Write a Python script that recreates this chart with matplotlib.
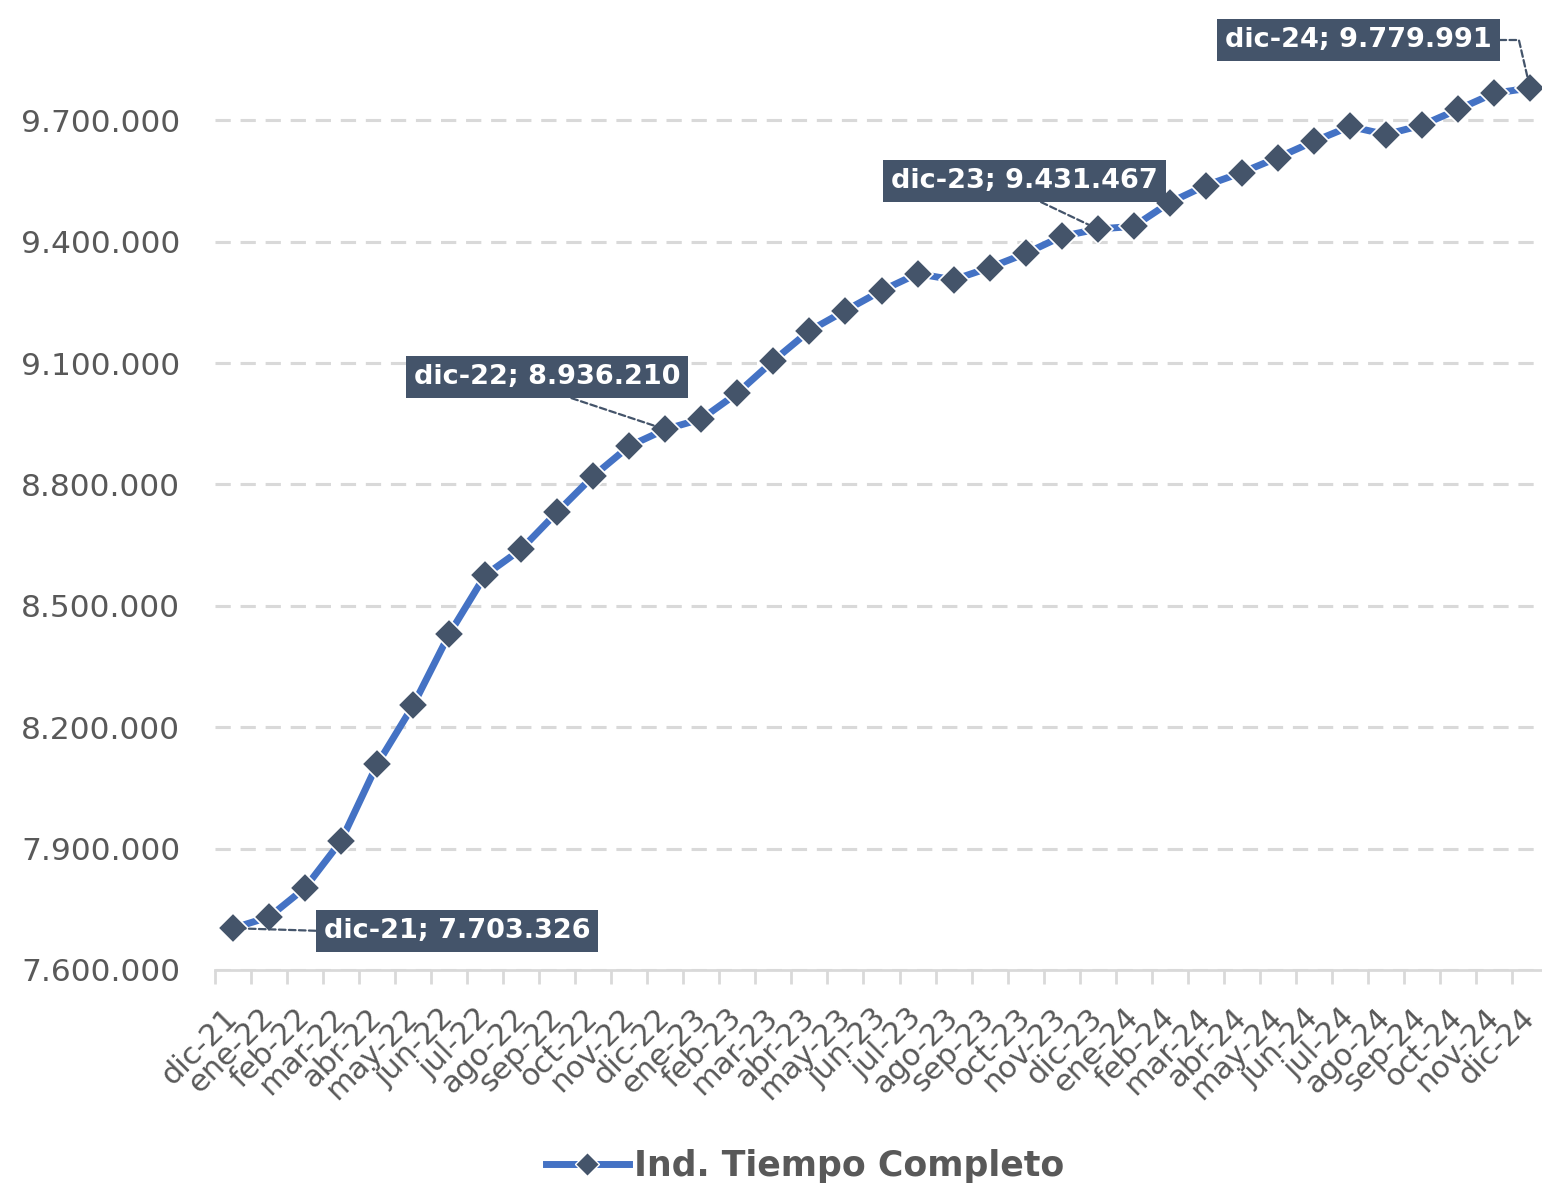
import matplotlib
matplotlib.use("Agg")
import matplotlib.pyplot as plt
from matplotlib.lines import Line2D
from matplotlib.ticker import FuncFormatter, FixedLocator

months = ["dic-21", "ene-22", "feb-22", "mar-22", "abr-22", "may-22", "jun-22", "jul-22",
          "ago-22", "sep-22", "oct-22", "nov-22", "dic-22", "ene-23", "feb-23", "mar-23",
          "abr-23", "may-23", "jun-23", "jul-23", "ago-23", "sep-23", "oct-23", "nov-23",
          "dic-23", "ene-24", "feb-24", "mar-24", "abr-24", "may-24", "jun-24", "jul-24",
          "ago-24", "sep-24", "oct-24", "nov-24", "dic-24"]
values = [7703326, 7731000, 7803000, 7919000, 8108000, 8254000, 8430000, 8576000,
          8640000, 8732000, 8821000, 8895000, 8936210, 8962000, 9026000, 9106000,
          9180000, 9230000, 9279000, 9321000, 9306000, 9336000, 9371000, 9413000,
          9431467, 9438000, 9497000, 9539000, 9571000, 9608000, 9648000, 9685000,
          9665000, 9688000, 9727000, 9767000, 9779991]
yticks = [7600000, 7900000, 8200000, 8500000, 8800000, 9100000, 9400000, 9700000]
series_name = "Ind. Tiempo Completo"
labelled = ["dic-21", "dic-22", "dic-23", "dic-24"]

FONT = ["DejaVu Sans"]
plt.rcParams["font.family"] = FONT

W, H = 1542, 1188
fig = plt.figure(figsize=(W / 100, H / 100), dpi=100)
ax = fig.add_axes([215 / W, 1 - 970 / H, 1333 / W, 971 / H])

x = list(range(len(months)))
LINE = "#4472C4"
MARK = "#44546A"
GRAY = "#595959"

ax.plot(x, values, color=LINE, lw=5, marker="D", ms=15, mfc=MARK, mec="white",
        mew=1.2, zorder=3, solid_joinstyle="round")

ax.set_xlim(-0.5, len(months) - 0.5)
ax.set_ylim(7600000, 10000000)
ax.yaxis.set_major_locator(FixedLocator(yticks))
ax.yaxis.set_major_formatter(FuncFormatter(lambda v, p: f"{int(round(v)):,}".replace(",", ".")))
ax.grid(axis="y", color="#D9D9D9", lw=2.2, ls=(0, (5, 3.2)))
ax.set_axisbelow(True)
for s in ["top", "right", "left"]:
    ax.spines[s].set_visible(False)
ax.spines["bottom"].set_color("#D9D9D9")
ax.spines["bottom"].set_linewidth(2)
ax.tick_params(axis="y", length=0, pad=25, labelsize=22.5, labelcolor=GRAY)
ax.set_xticks(x)
ax.set_xticklabels(months, rotation=45, ha="right", va="center", rotation_mode="anchor",
                   fontsize=22, color=GRAY)
ax.tick_params(axis="x", which="major", length=0, pad=31)
ax.set_xticks([i - 0.5 for i in range(len(months) + 1)], minor=True)
ax.tick_params(axis="x", which="minor", length=10, width=2, color="#D9D9D9")

# annotations: (text center in figure pixels from top, relpos, connection)
ann = {
    "dic-21": ((457, 931), (0.0, 0.5), "arc3"),
    "dic-22": ((547, 377), (0.5, 0.0), "arc3"),
    "dic-23": ((1024, 181), (0.5, 0.0), "arc3"),
    "dic-24": ((1358, 40), (1.0, 0.5), "angle,angleA=0,angleB=103,rad=0"),
}
for m in labelled:
    i = months.index(m)
    v = values[i]
    (px, py), rel, conn = ann[m]
    txt = f"{m}; " + f"{v:,}".replace(",", ".")
    ax.annotate(txt, xy=(i, v), xytext=(px, H - py), textcoords="figure pixels",
                ha="center", va="center", fontsize=19.5, fontweight="bold", color="white",
                bbox=dict(boxstyle="square,pad=0.3", fc=MARK, ec="none"),
                arrowprops=dict(arrowstyle="-", color=MARK, lw=1.6, ls=(0, (3, 1.5)),
                                relpos=rel, shrinkA=0, shrinkB=5, connectionstyle=conn),
                zorder=4, annotation_clip=False)

handle = Line2D([], [], color=LINE, lw=5, marker="D", ms=12, mfc=MARK, mec="white", mew=1)
leg = fig.legend([handle], [series_name], loc="center", bbox_to_anchor=(805 / W, 1 - 1166 / H),
                 frameon=False, handlelength=2.4, handletextpad=0.15,
                 prop=dict(family=FONT, weight="bold", size=25))
for t in leg.get_texts():
    t.set_color(GRAY)

fig.savefig("out.png", dpi=100)
